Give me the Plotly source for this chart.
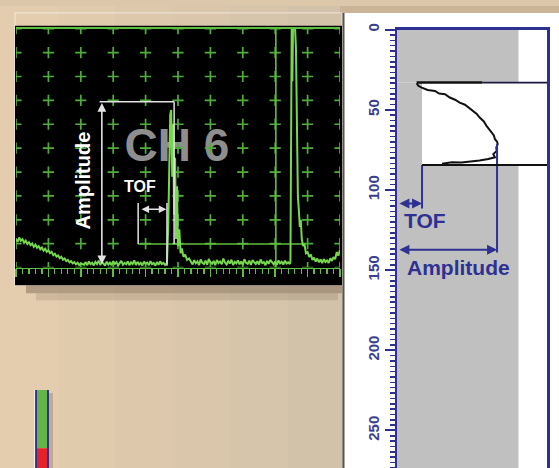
import plotly.graph_objects as go

W, H = 559, 468

# ---------------- data ----------------
# A-scan of channel 6: screen position (divisions) vs amplitude (% screen height)
ascan_div = [0.00, 0.05, 0.10, 0.15, 0.20, 0.25, 0.30, 0.35, 0.40, 0.45, 0.50, 0.55, 0.60, 0.65,
             0.70, 0.75, 0.80, 0.85, 0.90, 0.95, 1.00, 1.05, 1.10, 1.15, 1.20, 1.25, 1.30, 1.35,
             1.40, 1.45, 1.50, 1.55, 1.60, 1.65, 1.70, 1.75, 1.80, 1.85, 1.90, 1.95, 2.00,
             2.05, 2.10, 2.15, 2.20, 2.25, 2.30, 2.35, 2.40, 2.45, 2.50, 2.55, 2.60, 2.65,
             2.70, 2.75, 2.80, 2.85, 2.90, 2.95, 3.00, 3.05, 3.10, 3.15, 3.20, 3.25, 3.30,
             3.35, 3.40, 3.45, 3.50, 3.55, 3.60, 3.65, 3.70, 3.75, 3.80, 3.85, 3.90, 3.95,
             4.00, 4.05, 4.10, 4.15, 4.20, 4.25, 4.30, 4.35, 4.40, 4.45, 4.50, 4.55, 4.60,
             4.66, 4.70, 4.73, 4.76, 4.79, 4.82, 4.85, 4.88, 4.91, 4.94, 4.97, 5.00, 5.04,
             5.08, 5.12, 5.17, 5.22, 5.28, 5.34,
             5.40, 5.45, 5.50, 5.55, 5.60, 5.65, 5.70, 5.75, 5.80, 5.85, 5.90, 5.95, 6.00,
             6.05, 6.10, 6.15, 6.20, 6.25, 6.30, 6.35, 6.40, 6.45, 6.50, 6.55, 6.60, 6.65,
             6.70, 6.75, 6.80, 6.85, 6.90, 6.95, 7.00, 7.05, 7.10, 7.15, 7.20, 7.25, 7.30,
             7.35, 7.40, 7.45, 7.50, 7.55, 7.60, 7.65, 7.70, 7.75, 7.80, 7.85, 7.90, 7.95,
             8.00, 8.05, 8.10, 8.15, 8.20, 8.25, 8.30, 8.35, 8.40, 8.45,
             8.47, 8.50, 8.51, 8.53, 8.55, 8.58, 8.61, 8.64, 8.66, 8.68, 8.70, 8.73, 8.76,
             8.79, 8.82, 8.86, 8.90, 8.95, 9.00,
             9.05, 9.10, 9.15, 9.20, 9.25, 9.30, 9.35, 9.40, 9.45, 9.50, 9.55, 9.60, 9.65,
             9.70, 9.75, 9.80, 9.85, 9.90, 9.95, 10.00]
ascan_amp = [12.0, 10.8, 12.6, 11.2, 11.9, 10.4, 11.3, 9.9, 10.6, 9.4, 10.1, 8.7, 9.6, 8.3,
             9.0, 7.7, 8.4, 7.1, 7.9, 6.6, 7.3, 6.0, 6.6, 5.2, 5.8, 4.6, 5.1, 3.9,
             4.5, 3.3, 3.8, 2.7, 3.2, 2.2, 2.7, 1.8, 2.3, 1.4, 2.0, 1.1, 1.7,
             1.6, 1.2, 2.3, 1.0, 2.6, 1.4, 2.0, 0.9, 2.4, 1.5, 2.9, 1.1, 2.2,
             1.7, 0.8, 2.5, 1.3, 2.1, 1.0, 2.7, 1.6, 2.3, 0.9, 1.9, 2.8, 1.2,
             2.0, 1.4, 2.6, 1.0, 2.2, 1.5, 3.0, 1.1, 2.4, 1.3, 2.0, 0.9, 2.5,
             1.6, 2.1, 1.0, 2.7, 1.4, 1.9, 0.8, 2.3, 1.2, 2.6, 1.5, 2.0, 1.1,
             2.0, 18.0, 52.0, 64.0, 66.0, 38.0, 60.0, 22.0, 46.0, 12.0, 34.0, 9.0, 16.0,
             6.0, 8.0, 4.5, 5.5, 3.2, 3.8,
             2.4, 1.3, 3.1, 1.8, 2.6, 1.1, 3.4, 2.0, 1.5, 2.9, 1.2, 3.6, 2.2,
             1.6, 2.8, 1.0, 3.2, 1.9, 2.5, 1.4, 3.8, 2.1, 1.3, 2.7, 1.7, 3.3,
             1.1, 2.4, 1.8, 3.0, 1.4, 2.6, 1.2, 3.5, 2.0, 1.6, 2.9, 1.1, 3.1,
             2.2, 1.5, 2.7, 1.3, 3.4, 1.9, 2.3, 1.0, 2.8, 1.6, 3.2, 2.0, 1.4,
             2.5, 1.1, 3.0, 1.8, 2.4, 1.3, 2.9, 1.7, 2.2, 1.5,
             2.5, 62.0, 101.0, 78.0, 101.0, 101.0, 101.0, 92.0, 75.0, 42.0, 30.0, 24.0, 17.0,
             20.0, 12.0, 9.0, 10.0, 6.0, 6.5,
             4.5, 5.5, 3.2, 4.2, 2.5, 3.8, 2.2, 3.4, 1.9, 3.6, 2.4, 3.0, 2.0,
             3.9, 2.8, 4.4, 3.5, 6.5, 5.0, 7.5]

grid_cols = [0, 1, 2, 3, 4, 5, 6, 7, 8, 9, 10]
grid_rows = [0, 10, 20, 30, 40, 50, 60, 70, 80, 90, 100]

gate_marker_div = 8.02
gate_start_div, gate_end_div, gate_level = 3.77, 8.86, 9.9
echo_peak_level = 69.4
echo_peak_div = 4.88
amp_arrow_div = 2.65
amp_arrow_floor = 0.8
tof_start_div, tof_end_div, tof_level = 3.77, 4.66, 24.4
tof_box_top = 27.0

# Depth profile (right panel): amplitude (%) vs depth
profile_amp = [13.1, 14.2, 16.5, 20.4, 25.3, 28.1, 32.0, 35.2, 38.7, 41.8, 45.3, 47.6, 50.9,
               53.0, 55.3, 57.9, 59.8, 61.2, 63.1, 64.6, 65.3, 66.8, 67.1, 66.2, 66.5, 64.2,
               65.3, 60.9, 55.0, 49.8, 43.0, 36.5, 30.0]
profile_depth = [33.4, 35.0, 36.1, 37.6, 38.2, 39.8, 40.2, 42.3, 43.7, 45.5, 46.8, 48.6, 50.9,
                 52.4, 55.0, 57.2, 60.2, 61.8, 64.2, 66.0, 68.3, 70.0, 71.4, 73.5, 75.6, 77.6,
                 79.6, 80.7, 81.6, 82.1, 82.9, 82.7, 83.6]
depth_ticks = [0, 50, 100, 150, 200, 250]
depth_max = 273.4
top_depth, bottom_depth = 33.0, 84.4
band_amp = 81.0
tof_amp = 16.7
peak_amp = 66.7
tof_arrow_depth = 108.4
tof_line_end = 111.5
amp_arrow_depth = 137.3
amp_line_end = 139.0

# ---------------- styling ----------------
NAVY = '#2e3192'
GREEN = '#4fae3b'
LINE_GREEN = '#5cbf3e'
TRACE_GREEN = '#76d84c'
SCREEN_WHITE = '#e2e2e2'
FONT = 'Liberation Sans'


def rect_px(x0, y0, x1, y1, **kw):
    return dict(type='rect', xref='paper', yref='paper', x0=x0 / W, x1=x1 / W,
                y0=1 - y1 / H, y1=1 - y0 / H, **kw)


shapes = []
# background tint
bg_cols = ['#e4cdae', '#e1cbad', '#ddc8ac', '#d9c6ab', '#d6c4ab', '#d3c2aa']
step = 345 / len(bg_cols)
for i, c in enumerate(bg_cols):
    shapes.append(rect_px(i * step, 0, (i + 1) * step + 1, H, fillcolor=c, line_width=0, layer='below'))
shapes.append(rect_px(340, 0, W, 8, fillcolor='#cbb497', line_width=0, layer='below'))
# screen frame and shadow
shapes.append(rect_px(15, 7, 342, 283, line=dict(color='rgba(255,255,255,0.6)', width=1), layer='below'))
shapes.append(rect_px(26, 283, 342, 291, fillcolor='rgba(90,70,50,0.35)', line_width=0, layer='below'))
shapes.append(rect_px(36, 291, 338, 298, fillcolor='rgba(90,70,50,0.15)', line_width=0, layer='below'))
shapes.append(rect_px(15, 20, 342, 283, fillcolor='#000000', line_width=0, layer='below'))
# right white sheet
shapes.append(rect_px(344, 7, W, H, fillcolor='#ffffff', line_width=0, layer='below'))
shapes.append(dict(type='line', xref='paper', yref='paper', x0=343.5 / W, x1=343.5 / W,
                   y0=0, y1=1 - 7 / H, line=dict(color='#555555', width=2), layer='below'))
# small colour bar bottom-left
shapes.append(rect_px(48, 392, 53, H, fillcolor='rgba(90,70,50,0.25)', line_width=0, layer='below'))
shapes.append(rect_px(37, 389, 47, 448, fillcolor='#63b547', line_width=0, layer='below'))
shapes.append(rect_px(37, 448, 47, H, fillcolor='#e4222a', line_width=0, layer='below'))
for xx in (36, 48):
    shapes.append(dict(type='line', xref='paper', yref='paper', x0=xx / W, x1=xx / W,
                       y0=0, y1=1 - 389 / H, line=dict(color=NAVY, width=2), layer='below'))
shapes.append(dict(type='line', xref='paper', yref='paper', x0=34.6 / W, x1=34.6 / W,
                   y0=0, y1=1 - 389 / H, line=dict(color='#f4f0ea', width=1), layer='below'))

# gray band in the depth profile
GRAY = '#c0c0c0'
for (a0, a1, d0, d1) in [(0, band_amp, 0, top_depth), (0, tof_amp, top_depth, bottom_depth),
                         (0, band_amp, bottom_depth, depth_max)]:
    shapes.append(dict(type='rect', xref='x2', yref='y2', x0=a0, x1=a1, y0=d0, y1=d1,
                       fillcolor=GRAY, line_width=0, layer='below'))


# white marker lines on the A-scan
def wline(x0, y0, x1, y1, w=1.5):
    return dict(type='line', xref='x', yref='y', x0=x0, y0=y0, x1=x1, y1=y1,
                line=dict(color=SCREEN_WHITE, width=w), layer='above')


shapes += [
    wline(amp_arrow_div - 0.07, echo_peak_level, echo_peak_div, echo_peak_level),
    wline(echo_peak_div, echo_peak_level, echo_peak_div, gate_level),
    wline(tof_start_div, tof_box_top, tof_start_div, gate_level),
    wline(tof_end_div, tof_box_top, tof_end_div, amp_arrow_floor),
]


# navy marker lines on the depth profile
def nline(x0, y0, x1, y1, w=2, c=NAVY):
    return dict(type='line', xref='x2', yref='y2', x0=x0, y0=y0, x1=x1, y1=y1,
                line=dict(color=c, width=w), layer='above')


shapes += [
    nline(tof_amp, bottom_depth, tof_amp, tof_line_end),
    nline(peak_amp, profile_depth[22], peak_amp, amp_line_end),
    nline(profile_amp[0], top_depth, 57, top_depth, w=2.5, c='#111111'),
    nline(57, top_depth, 100, top_depth, w=1.6, c='#1a1a40'),
    nline(tof_amp, bottom_depth, 100, bottom_depth, w=2, c='#111111'),
]

fig = go.Figure()

# big channel label behind everything on the screen
fig.add_trace(go.Scatter(x=[4.97], y=[49.6], mode='text', text=['<b>CH 6</b>'],
                         textfont=dict(family=FONT, size=46, color='#8e8e8e'),
                         hoverinfo='skip', xaxis='x', yaxis='y'))

# grid crosses
gx, gy = [], []
for c in grid_cols:
    for r in grid_rows:
        gx.append(c)
        gy.append(r)
fig.add_trace(go.Scatter(x=gx, y=gy, mode='markers',
                         marker=dict(symbol='cross-thin', size=8, line=dict(width=1.7, color=GREEN)),
                         hoverinfo='skip', xaxis='x', yaxis='y'))

# gate lines
fig.add_trace(go.Scatter(x=[gate_marker_div, gate_marker_div], y=[0, 100], mode='lines',
                         line=dict(color=LINE_GREEN, width=1.6), xaxis='x', yaxis='y'))
fig.add_trace(go.Scatter(x=[gate_start_div, gate_end_div], y=[gate_level, gate_level], mode='lines',
                         line=dict(color=LINE_GREEN, width=1.4), xaxis='x', yaxis='y'))

# A-scan trace
fig.add_trace(go.Scatter(x=ascan_div, y=ascan_amp, mode='lines',
                         line=dict(color=TRACE_GREEN, width=2), xaxis='x', yaxis='y'))

# depth profile curve
fig.add_trace(go.Scatter(x=profile_amp, y=profile_depth, mode='lines',
                         line=dict(color='#111111', width=2), xaxis='x2', yaxis='y2'))

annotations = [
    dict(x=2.07, y=36.5, xref='x', yref='y', text='<b>Amplitude</b>', textangle=-90, showarrow=False,
         font=dict(family=FONT, size=20, color='#ffffff')),
    dict(x=3.82, y=33.9, xref='x', yref='y', text='<b>TOF</b>', showarrow=False,
         font=dict(family=FONT, size=16, color='#ffffff')),
    dict(x=amp_arrow_div, y=echo_peak_level - 0.5, ax=amp_arrow_div, ay=amp_arrow_floor,
         xref='x', yref='y', axref='x', ayref='y', text='', showarrow=True,
         arrowhead=2, arrowside='end+start', arrowsize=1.1, arrowwidth=1.6, arrowcolor=SCREEN_WHITE),
    dict(x=tof_end_div - 0.02, y=tof_level, ax=tof_start_div + 0.06, ay=tof_level,
         xref='x', yref='y', axref='x', ayref='y', text='', showarrow=True,
         arrowhead=2, arrowside='end+start', arrowsize=1.0, arrowwidth=1.5, arrowcolor=SCREEN_WHITE),
    dict(x=18.7, y=118.8, xref='x2', yref='y2', text='<b>TOF</b>', showarrow=False,
         font=dict(family=FONT, size=21, color=NAVY)),
    dict(x=40.7, y=148.4, xref='x2', yref='y2', text='<b>Amplitude</b>', showarrow=False,
         font=dict(family=FONT, size=21, color=NAVY)),
    dict(x=tof_amp, y=tof_arrow_depth, ax=0.6, ay=tof_arrow_depth,
         xref='x2', yref='y2', axref='x2', ayref='y2', text='', showarrow=True,
         arrowhead=2, arrowside='end+start', arrowsize=1.0, arrowwidth=2, arrowcolor=NAVY),
    dict(x=peak_amp, y=amp_arrow_depth, ax=0.6, ay=amp_arrow_depth,
         xref='x2', yref='y2', axref='x2', ayref='y2', text='', showarrow=True,
         arrowhead=2, arrowside='end+start', arrowsize=1.0, arrowwidth=2, arrowcolor=NAVY),
]

fig.update_layout(
    width=W, height=H, autosize=False,
    margin=dict(l=0, r=0, t=0, b=0),
    paper_bgcolor='#dcc7aa', plot_bgcolor='rgba(0,0,0,0)',
    showlegend=False,
    shapes=shapes, annotations=annotations,
    xaxis=dict(domain=[16 / W, 340 / W], range=[0, 10], anchor='y',
               showgrid=False, zeroline=False, showticklabels=False,
               showline=True, mirror=True, linecolor=LINE_GREEN, linewidth=1.5,
               ticks='outside', tick0=0, dtick=1, ticklen=8, tickwidth=1.5, tickcolor=LINE_GREEN,
               minor=dict(ticks='outside', tick0=0, dtick=0.2, ticklen=5, tickwidth=1.2,
                          tickcolor=LINE_GREEN),
               fixedrange=True),
    yaxis=dict(domain=[1 - 265 / H, 1 - 23 / H], range=[0, 100], anchor='x',
               showgrid=False, zeroline=False, showticklabels=False, showline=False,
               ticks='', fixedrange=True),
    xaxis2=dict(domain=[397 / W, 547 / W], range=[0, 100], anchor='y2', side='top',
                showgrid=False, zeroline=False, showticklabels=False, ticks='',
                showline=True, linecolor=NAVY, linewidth=2.5, fixedrange=True),
    yaxis2=dict(domain=[0, 1 - 24 / H], range=[depth_max, 0], anchor='x2',
                showgrid=False, zeroline=False,
                showline=True, mirror=True, linecolor=NAVY, linewidth=2.5,
                tickmode='array', tickvals=depth_ticks, ticktext=[str(v) for v in depth_ticks],
                ticks='outside', ticklen=10, tickwidth=2, tickcolor=NAVY, tickangle=-90,
                tickfont=dict(family=FONT, size=15, color='#3b3e90', weight='bold'),
                minor=dict(tickmode='linear', tick0=0, dtick=50 / 15, ticks='outside',
                           ticklen=5, tickwidth=1.5, tickcolor=NAVY),
                fixedrange=True),
)

fig.write_html("out.html", config={'displayModeBar': False, 'staticPlot': True},
               post_script="document.body.style.margin='0';")
